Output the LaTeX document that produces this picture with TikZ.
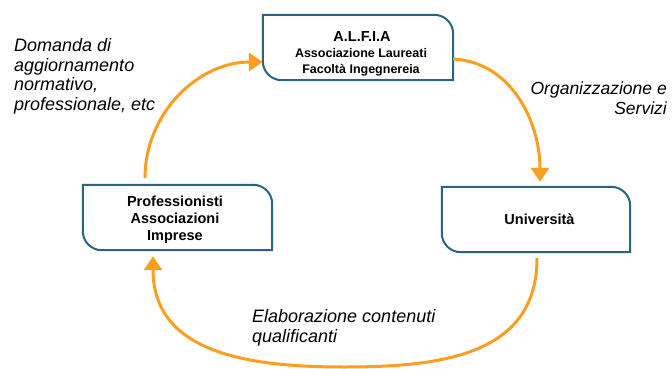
\documentclass[tikz,border=0pt]{standalone}
\usepackage{fontspec}
\setmainfont{Liberation Sans}
\usetikzlibrary{arrows.meta}
\definecolor{boxblue}{RGB}{40,102,128}
\definecolor{arrorange}{RGB}{252,158,32}
\tikzset{
  boxshape/.style={minimum width=#1, minimum height=65pt, inner sep=0pt, draw=none},
  boxline/.style={draw=boxblue, line width=2pt},
  flow/.style={draw=arrorange, line width=3pt, -{Triangle[length=14pt,width=18pt]}},
  lbl/.style={font=\fontsize{18}{19.8}\selectfont\itshape, inner sep=0pt},
  boxtxt/.style={font=\fontsize{14.5}{17.3}\selectfont\bfseries, inner sep=0pt, align=center},
  subtxt/.style={font=\fontsize{12.5}{16}\selectfont\bfseries, inner sep=0pt, align=center},
}
\newcommand\drawtabbox[2]{%
  \draw[boxline] (#1.north west) -- ([xshift=-#2]#1.north east)
    arc[start angle=90,end angle=0,radius=#2] -- (#1.south east)
    -- ([xshift=#2]#1.south west)
    arc[start angle=270,end angle=180,radius=#2] -- cycle;}
\begin{document}
\begin{tikzpicture}[x=1pt,y=1pt]
\useasboundingbox[fill=white] (0,0) rectangle (672,-369);

% boxes
\node[boxshape=190pt] (alfia) at (358,-47.5) {};
\node[boxshape=189pt] (prof) at (177.5,-217.5) {};
\node[boxshape=188pt] (univ) at (536,-219.5) {};
\drawtabbox{alfia}{19pt}
\drawtabbox{prof}{19pt}
\drawtabbox{univ}{19pt}

% box texts
\node[boxtxt, anchor=base] (alfiatitle) at (362,-41.7) {A.L.F.I.A};
\node[subtxt, anchor=north] (alfiasub) at (361,-48.3) {Associazione Laureati\\Facoltà Ingegnereia};
\node[boxtxt, anchor=north] (proftxt) at (175,-195.4) {Professionisti\\Associazioni\\Imprese};
\node[boxtxt, anchor=base] (univtxt) at (539.5,-224) {Università};

% labels
\node[lbl, anchor=north west, align=left] (domanda) at (14,-38)
  {Domanda di\\aggiornamento\\normativo,\\professionale, etc};
\node[lbl, anchor=north east, align=right, font=\fontsize{17.5}{20}\selectfont\itshape] (organ) at (667,-81.3)
  {Organizzazione e\\Servizi};
\node[lbl, anchor=north west, align=left, font=\fontsize{18}{20}\selectfont\itshape] (elab) at (252,-309)
  {Elaborazione contenuti\\qualificanti};

% connectors
\coordinate (bot) at (344,-367);
\draw[flow] ([shift={(-32.5pt,7pt)}]prof.north) to[out=90,in=180] ([yshift=-14.5pt]alfia.west);
\draw[flow] ([yshift=-11.5pt]alfia.east) to[out=-3,in=90] ([shift={(4pt,5pt)}]univ.north);
\draw[flow] ([shift={(1pt,-6pt)}]univ.south) to[out=-90,in=0,looseness=1.12] (bot)
  to[out=180,in=-90,looseness=1.12] ([shift={(-24.5pt,-6pt)}]prof.south);
\end{tikzpicture}
\end{document}
